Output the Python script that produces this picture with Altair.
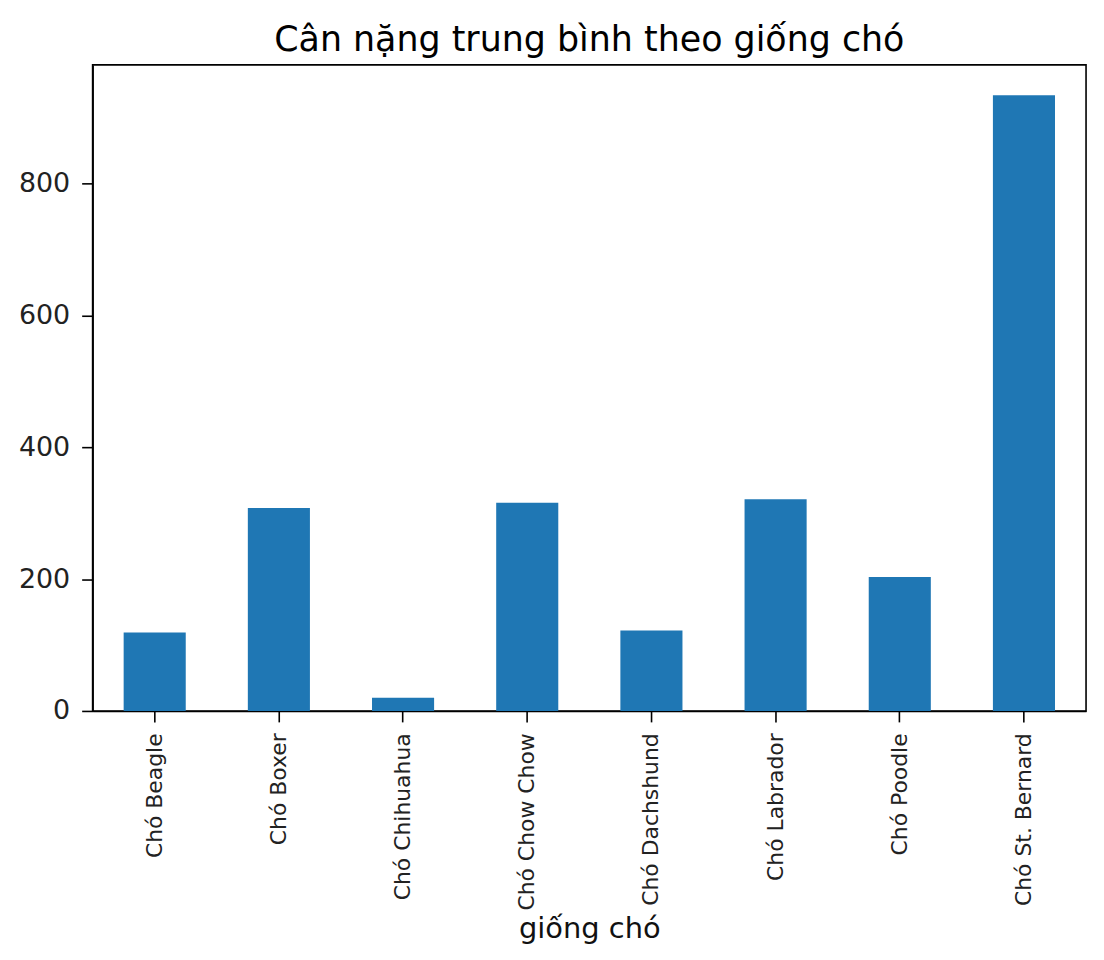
import altair as alt
import pandas as pd

breeds = ["Chó Beagle", "Chó Boxer", "Chó Chihuahua", "Chó Chow Chow",
          "Chó Dachshund", "Chó Labrador", "Chó Poodle", "Chó St. Bernard"]
weights = [119, 308, 20, 316, 122, 321, 203, 934]
y_ticks = [0, 200, 400, 600, 800]

df = pd.DataFrame({"breed": breeds, "weight": weights})

FONT = "DejaVu Sans"

chart = alt.Chart(df).mark_bar(color="#1f77b4").encode(
    x=alt.X("breed:N", sort=breeds, title="giống chó",
            scale=alt.Scale(paddingInner=0.5, paddingOuter=0.25),
            axis=alt.Axis(labelAngle=270, labelAlign="right", labelBaseline="middle",
                          labelFontSize=22, labelPadding=11, tickSize=11,
                          titleFontSize=29, titlePadding=5, titleFontWeight="normal")),
    y=alt.Y("weight:Q", title=None,
            scale=alt.Scale(domain=[0, 980], nice=False, zero=True),
            axis=alt.Axis(values=y_ticks, grid=False, labelFontSize=27,
                          labelPadding=12, tickSize=11)),
).properties(
    width=998,
    height=649,
    autosize=alt.AutoSizeParams(type="none"),
    padding={"left": 85, "top": 55, "right": 10, "bottom": 240},
    title=alt.Title("Cân nặng trung bình theo giống chó", fontSize=35,
                    fontWeight="normal", offset=7, color="#000000"),
).configure(
    font=FONT,
).configure_axis(
    domainColor="#000000", domainWidth=1.6, tickColor="#000000", tickWidth=1.6,
    labelColor="#222222", titleColor="#111111", labelFont=FONT, titleFont=FONT,
).configure_view(
    stroke="#000000", strokeWidth=1.6,
)

chart.save("out.html", embed_options={"renderer": "svg", "actions": False})
